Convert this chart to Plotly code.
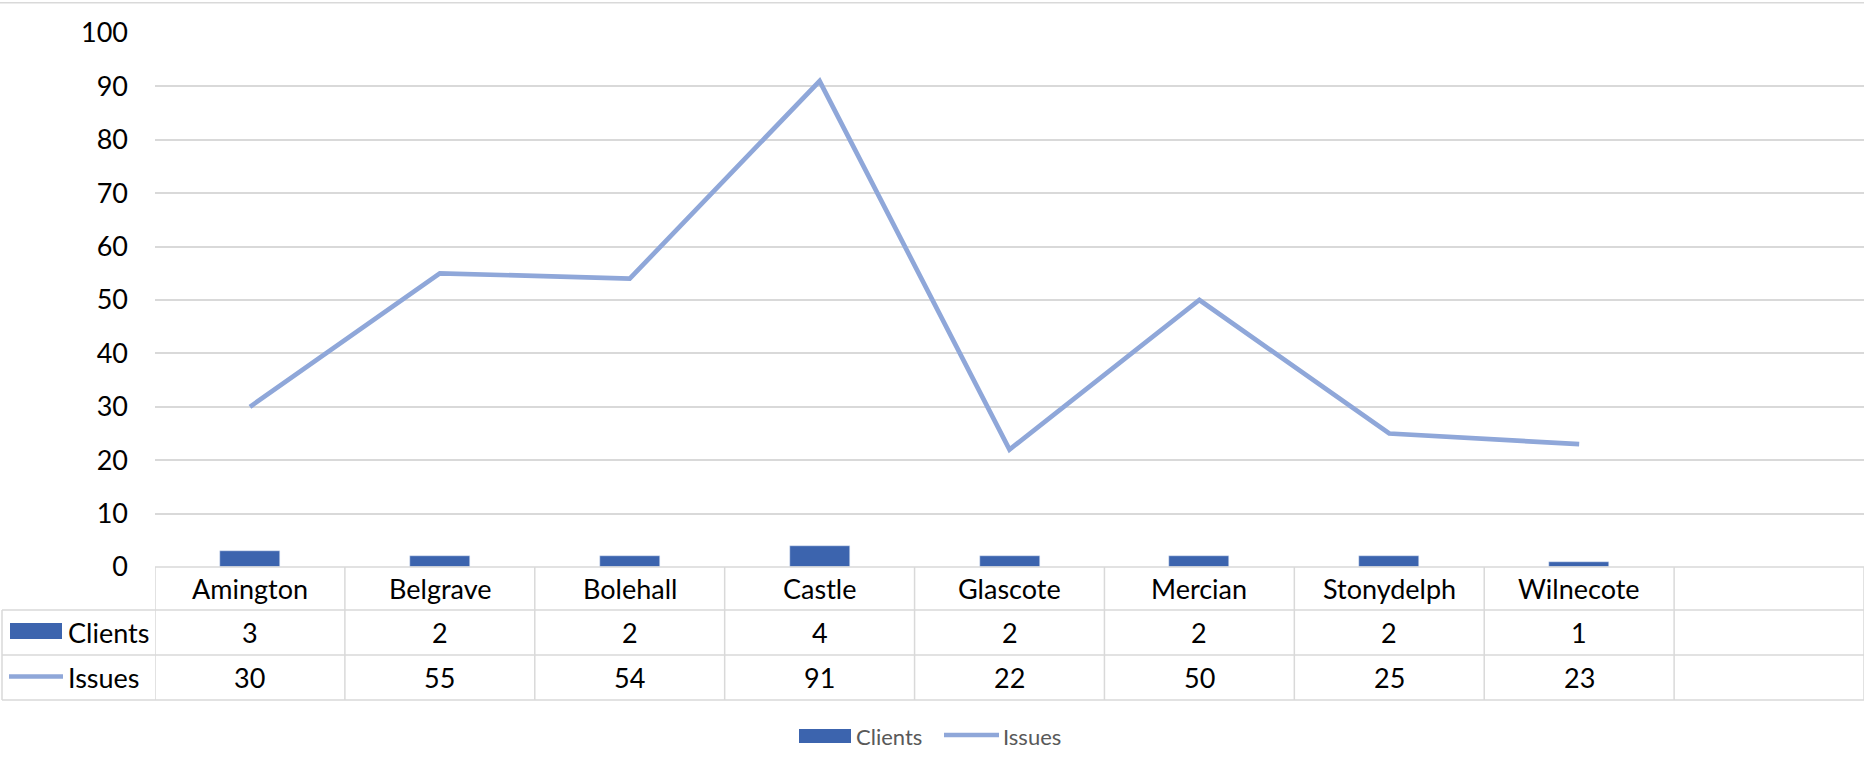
import plotly.graph_objects as go

# ---- data ----
categories = ["Amington", "Belgrave", "Bolehall", "Castle", "Glascote", "Mercian", "Stonydelph", "Wilnecote"]
clients = [3, 2, 2, 4, 2, 2, 2, 1]
issues = [30, 55, 54, 91, 22, 50, 25, 23]
series_names = ["Clients", "Issues"]
y_ticks = [0, 10, 20, 30, 40, 50, 60, 70, 80, 90, 100]

# ---- styling ----
W, H = 1865, 763
L, R, T, B = 155, 1, 33, 196
BAR_COLOR = "#3C64AE"
LINE_COLOR = "#8FA7D9"
GRID = "#D9D9D9"
FONT = "Lato"
n_slots = len(categories) + 1  # one empty slot on the right, as in the reference

plot_w = W - L - R
plot_h = H - T - B


def px_x(p):
    return (p - L) / plot_w


def px_y(p):
    return (H - B - p) / plot_h


xs = list(range(len(categories)))

fig = go.Figure()
fig.add_trace(go.Bar(x=xs, y=clients, name=series_names[0], marker_color=BAR_COLOR,
                     width=0.316, showlegend=False))
fig.add_trace(go.Scatter(x=xs, y=issues, name=series_names[1], mode="lines",
                         line=dict(color=LINE_COLOR, width=4.7), showlegend=False))

shapes = []
line_style = dict(color=GRID, width=1.5)

# outer top border
shapes.append(dict(type="line", xref="paper", yref="paper", x0=px_x(0), x1=px_x(1864),
                   y0=px_y(2.7), y1=px_y(2.7), line=line_style))

# table horizontal lines
shapes.append(dict(type="line", xref="paper", yref="paper", x0=0, x1=1,
                   y0=px_y(567), y1=px_y(567), line=line_style))
for yp in (610, 655, 700):
    shapes.append(dict(type="line", xref="paper", yref="paper", x0=px_x(2), x1=1,
                       y0=px_y(yp), y1=px_y(yp), line=line_style))
# table vertical lines
for k in range(n_slots + 1):
    shapes.append(dict(type="line", xref="x", yref="paper", x0=k - 0.5, x1=k - 0.5,
                       y0=px_y(567), y1=px_y(700), line=line_style))
shapes.append(dict(type="line", xref="paper", yref="paper", x0=px_x(2), x1=px_x(2),
                   y0=px_y(610), y1=px_y(700), line=line_style))

# table row swatches
shapes.append(dict(type="rect", xref="paper", yref="paper", x0=px_x(10), x1=px_x(62),
                   y0=px_y(639), y1=px_y(623), fillcolor=BAR_COLOR, line=dict(width=0)))
shapes.append(dict(type="line", xref="paper", yref="paper", x0=px_x(9), x1=px_x(63),
                   y0=px_y(676.5), y1=px_y(676.5), line=dict(color=LINE_COLOR, width=4.7)))

# bottom legend swatches
shapes.append(dict(type="rect", xref="paper", yref="paper", x0=px_x(799), x1=px_x(851),
                   y0=px_y(743), y1=px_y(729), fillcolor=BAR_COLOR, line=dict(width=0)))
shapes.append(dict(type="line", xref="paper", yref="paper", x0=px_x(944), x1=px_x(999),
                   y0=px_y(735), y1=px_y(735), line=dict(color=LINE_COLOR, width=4.7)))

annotations = []
cell_font = dict(family=FONT, size=27, color="#000000")
for i, cat in enumerate(categories):
    annotations.append(dict(x=i, y=px_y(588), xref="x", yref="paper", text=cat,
                            showarrow=False, font=cell_font, xanchor="center", yanchor="middle"))
    annotations.append(dict(x=i, y=px_y(632), xref="x", yref="paper", text=str(clients[i]),
                            showarrow=False, font=cell_font, xanchor="center", yanchor="middle"))
    annotations.append(dict(x=i, y=px_y(677), xref="x", yref="paper", text=str(issues[i]),
                            showarrow=False, font=cell_font, xanchor="center", yanchor="middle"))

annotations.append(dict(x=px_x(66), y=px_y(632), xref="paper", yref="paper", text=series_names[0],
                        showarrow=False, font=cell_font, xanchor="left", yanchor="middle"))
annotations.append(dict(x=px_x(66), y=px_y(677), xref="paper", yref="paper", text=series_names[1],
                        showarrow=False, font=cell_font, xanchor="left", yanchor="middle"))

legend_font = dict(family=FONT, size=22, color="#595959")
annotations.append(dict(x=px_x(854), y=px_y(736), xref="paper", yref="paper", text=series_names[0],
                        showarrow=False, font=legend_font, xanchor="left", yanchor="middle"))
annotations.append(dict(x=px_x(1001), y=px_y(736), xref="paper", yref="paper", text=series_names[1],
                        showarrow=False, font=legend_font, xanchor="left", yanchor="middle"))

fig.update_layout(
    width=W, height=H,
    margin=dict(l=L, r=R, t=T, b=B, pad=0),
    paper_bgcolor="white", plot_bgcolor="white",
    shapes=shapes, annotations=annotations,
    showlegend=False,
    xaxis=dict(range=[-0.5, n_slots - 0.5], showticklabels=False, showgrid=False,
               zeroline=False, showline=False, ticks=""),
    yaxis=dict(range=[0, 100], tickvals=y_ticks, showgrid=True, gridcolor=GRID, gridwidth=1.5,
               zeroline=False, showline=False, ticks="", ticklabelstandoff=26,
               tickfont=dict(family=FONT, size=27, color="#000000")),
    bargap=0,
)

fig.write_html("out.html", config={"displayModeBar": False},
               post_script="document.body.style.margin='0px';")
